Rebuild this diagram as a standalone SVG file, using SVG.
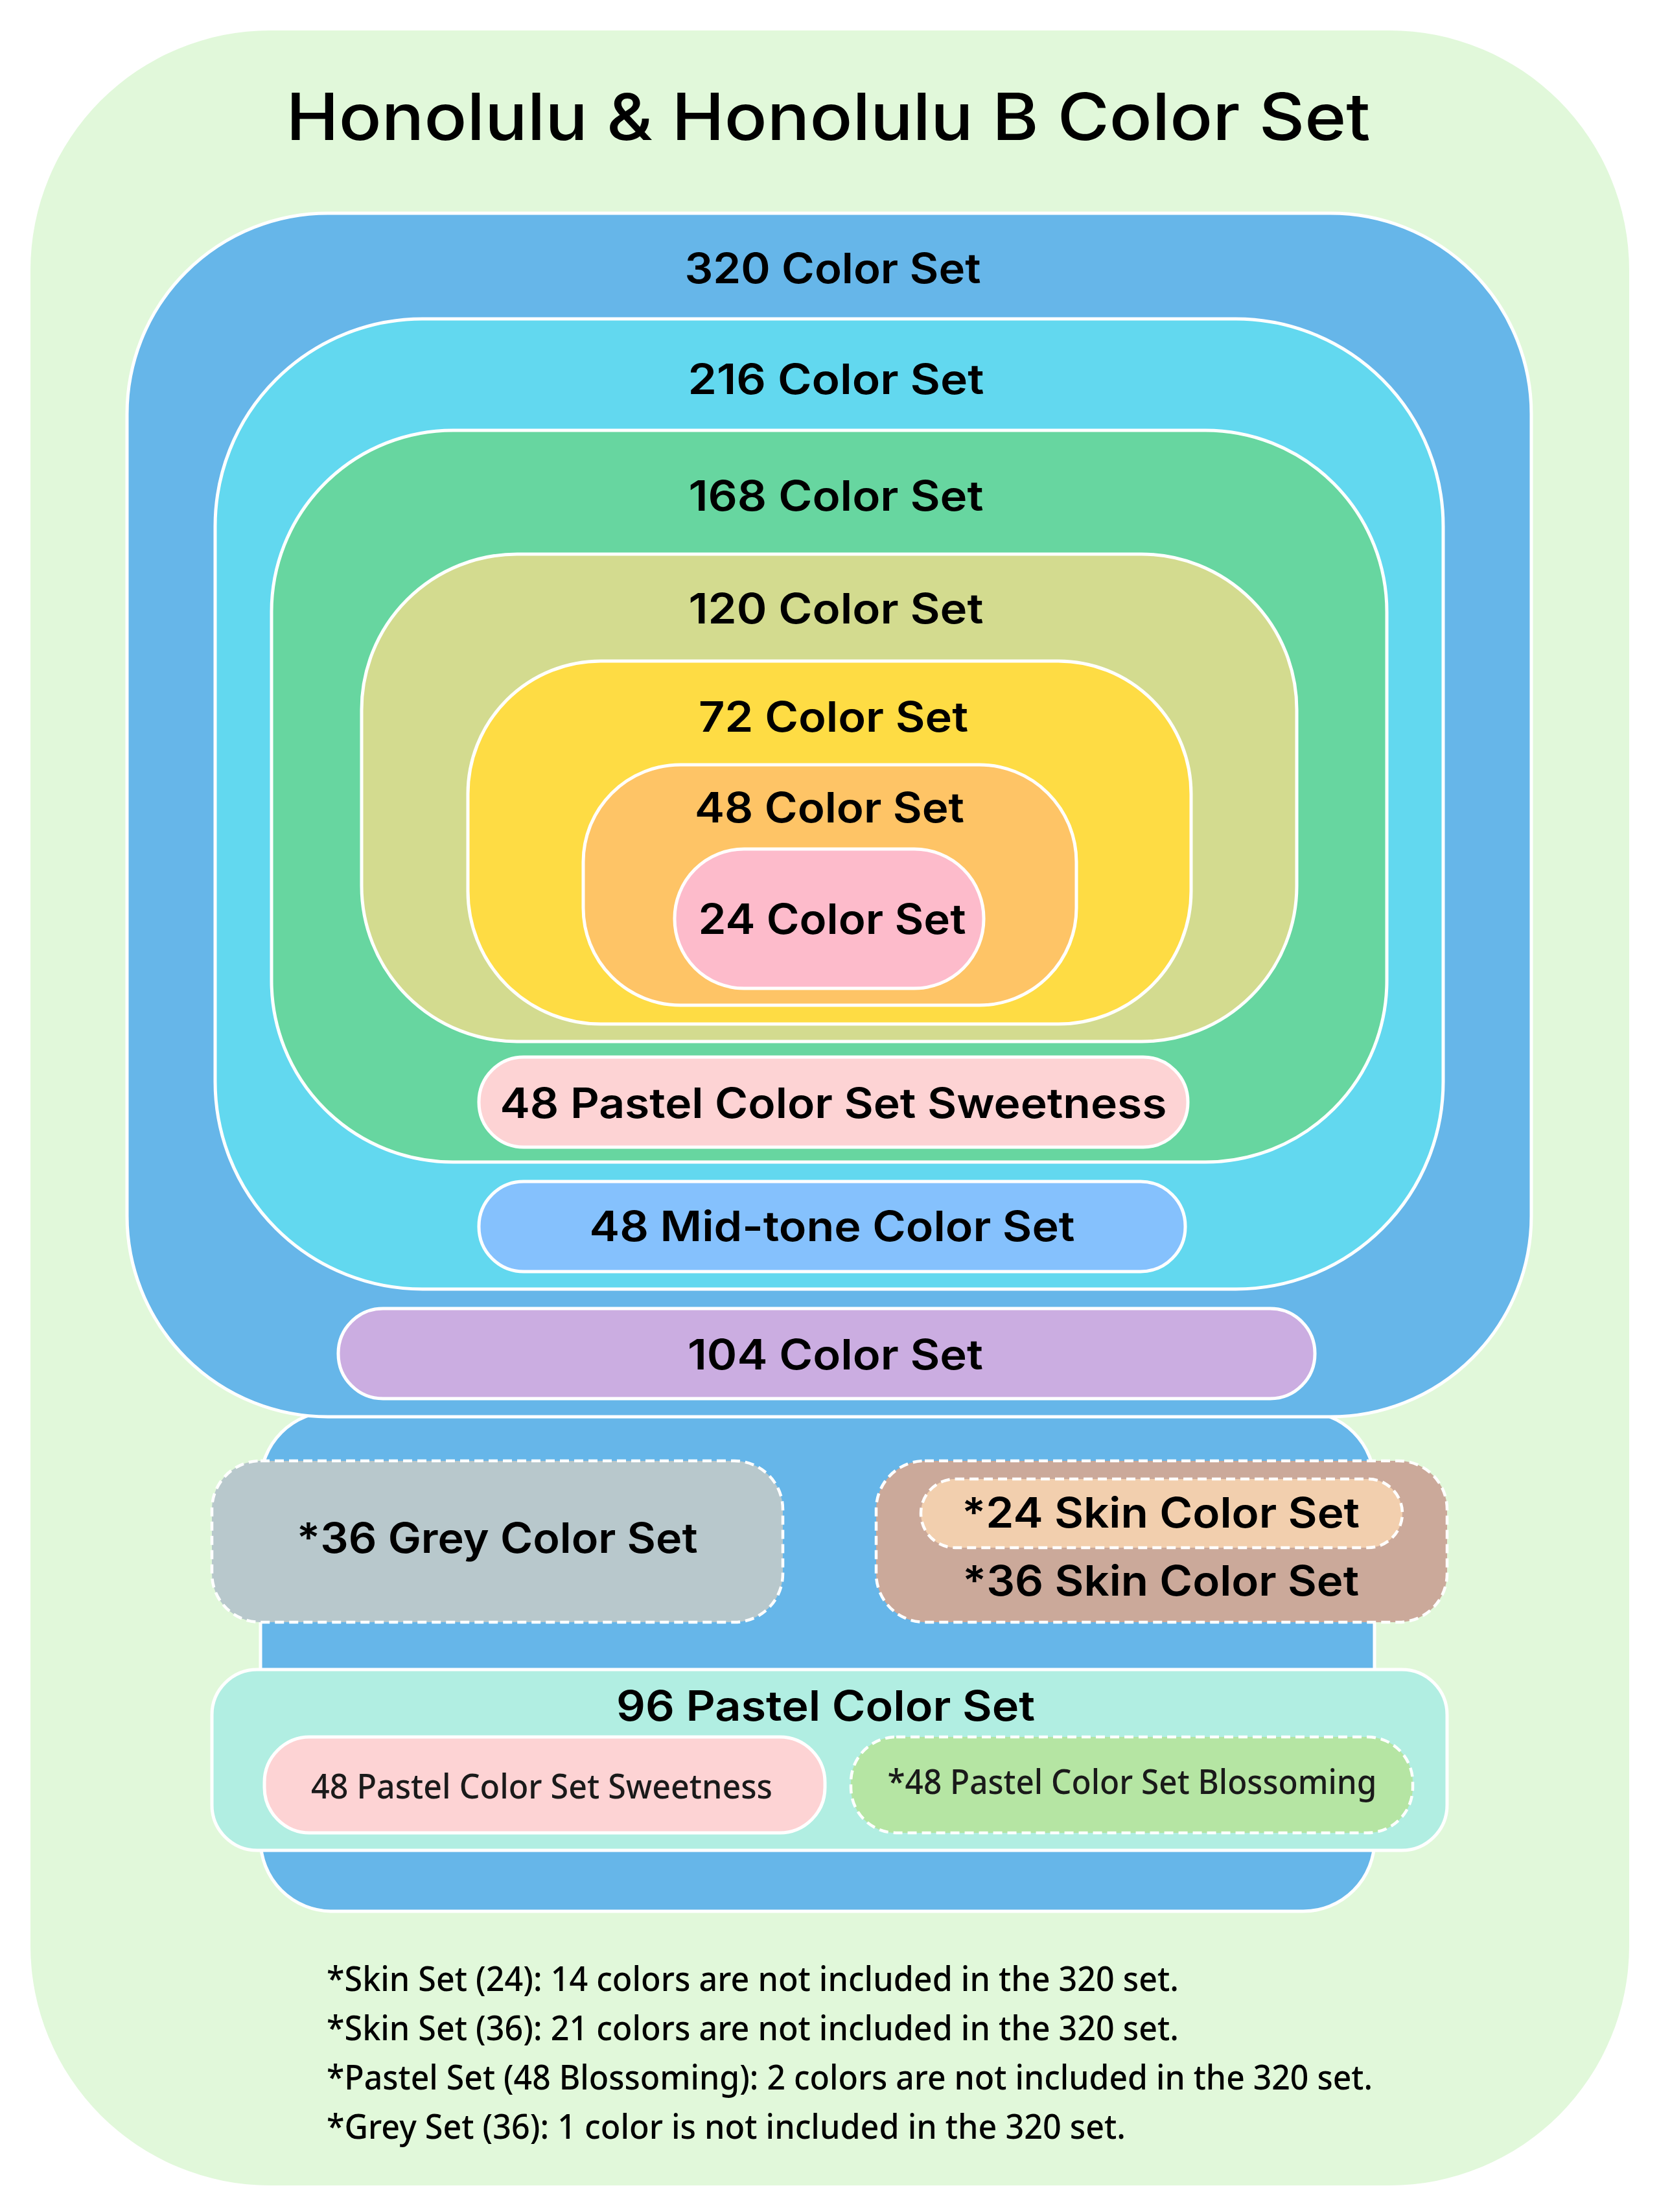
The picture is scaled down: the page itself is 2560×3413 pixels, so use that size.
<svg xmlns="http://www.w3.org/2000/svg" width="2560" height="3413" viewBox="0 0 2560 3413">
<style>
.box{stroke:#ffffff;stroke-width:5}
.dash{stroke:#ffffff;stroke-width:4.5;stroke-dasharray:14 8}
.lbl{font-family:Inter,"Noto Sans","Liberation Sans",sans-serif;font-weight:600;font-size:64px;fill:#000000;text-anchor:middle}
.title{font-family:Inter,"Noto Sans","Liberation Sans",sans-serif;font-weight:500;font-size:100px;fill:#000000;text-anchor:middle}
.sm{font-family:"Noto Sans","Open Sans","Liberation Sans",sans-serif;font-weight:500;font-size:52px;fill:#1a1a1a;text-anchor:middle}
.note{font-family:"Noto Sans","Open Sans","Liberation Sans",sans-serif;font-weight:500;font-size:52px;fill:#000000}
</style>
<rect width="2560" height="3413" fill="#ffffff"/>
<g id="background">
<rect x="47" y="47" width="2467" height="3325" rx="370" ry="370" fill="#E1F8DA"/>
<text class="title" x="1278" y="216" textLength="1673" lengthAdjust="spacingAndGlyphs">Honolulu &amp; Honolulu B Color Set</text>
</g>
<g id="lower-group">
<rect class="box" x="402" y="2178" width="1719" height="771" rx="110" ry="110" fill="#66B6E9"/>
</g>
<g id="set-320">
<rect class="box" x="196" y="329" width="2167" height="1857" rx="310" ry="310" fill="#66B6E9"/>
<text class="lbl" x="1285" y="437" textLength="457" lengthAdjust="spacingAndGlyphs">320 Color Set</text>
</g>
<g id="set-216">
<rect class="box" x="332" y="492" width="1895" height="1497" rx="320" ry="320" fill="#62D8EF"/>
<text class="lbl" x="1290" y="608" textLength="457" lengthAdjust="spacingAndGlyphs">216 Color Set</text>
</g>
<g id="set-168">
<rect class="box" x="419" y="664" width="1721" height="1129" rx="280" ry="280" fill="#67D6A0"/>
<text class="lbl" x="1290" y="788" textLength="455" lengthAdjust="spacingAndGlyphs">168 Color Set</text>
</g>
<g id="set-120">
<rect class="box" x="558" y="855" width="1443" height="752" rx="240" ry="240" fill="#D3DB8F"/>
<text class="lbl" x="1290" y="962" textLength="455" lengthAdjust="spacingAndGlyphs">120 Color Set</text>
</g>
<g id="set-72">
<rect class="box" x="722" y="1020" width="1116" height="560" rx="205" ry="205" fill="#FEDC44"/>
<text class="lbl" x="1286" y="1129" textLength="416" lengthAdjust="spacingAndGlyphs">72 Color Set</text>
</g>
<g id="set-48">
<rect class="box" x="900" y="1180" width="761" height="371" rx="150" ry="150" fill="#FEC466"/>
<text class="lbl" x="1280" y="1269" textLength="416" lengthAdjust="spacingAndGlyphs">48 Color Set</text>
</g>
<g id="set-24">
<rect class="box" x="1041" y="1310" width="477" height="215" rx="107" ry="107" fill="#FDBBCB"/>
<text class="lbl" x="1284" y="1441" textLength="413" lengthAdjust="spacingAndGlyphs">24 Color Set</text>
</g>
<g id="set-48-pastel-sweetness">
<rect class="box" x="739" y="1631" width="1094" height="139" rx="69" ry="69" fill="#FDD3D4"/>
<text class="lbl" x="1286" y="1725" textLength="1029" lengthAdjust="spacingAndGlyphs">48 Pastel Color Set Sweetness</text>
</g>
<g id="set-48-midtone">
<rect class="box" x="739" y="1823" width="1090" height="139" rx="69" ry="69" fill="#85C1FD"/>
<text class="lbl" x="1284" y="1915" textLength="749" lengthAdjust="spacingAndGlyphs">48 Mid-tone Color Set</text>
</g>
<g id="set-104">
<rect class="box" x="522" y="2019" width="1507" height="139" rx="69" ry="69" fill="#CBADE1"/>
<text class="lbl" x="1289" y="2113" textLength="456" lengthAdjust="spacingAndGlyphs">104 Color Set</text>
</g>
<g id="set-36-grey">
<rect class="dash" x="327" y="2254" width="881" height="249" rx="75" ry="75" fill="#B8C8CC"/>
<text class="lbl" x="767" y="2396" textLength="619" lengthAdjust="spacingAndGlyphs">*36 Grey Color Set</text>
</g>
<g id="set-36-skin">
<rect class="dash" x="1352" y="2254" width="881" height="249" rx="75" ry="75" fill="#CBA99A"/>
<text class="lbl" x="1791" y="2462" textLength="612" lengthAdjust="spacingAndGlyphs">*36 Skin Color Set</text>
</g>
<g id="set-24-skin">
<rect class="dash" x="1421" y="2282" width="743" height="106" rx="53" ry="53" fill="#F2CFAE"/>
<text class="lbl" x="1791" y="2357" textLength="614" lengthAdjust="spacingAndGlyphs">*24 Skin Color Set</text>
</g>
<g id="set-96-pastel">
<rect class="box" x="327" y="2576" width="1906" height="279" rx="70" ry="70" fill="#B1EEE2"/>
<text class="lbl" x="1274" y="2655" textLength="646" lengthAdjust="spacingAndGlyphs">96 Pastel Color Set</text>
</g>
<g id="set-48-pastel-sweetness-b">
<rect class="box" x="408" y="2680" width="865" height="148" rx="70" ry="70" fill="#FDD3D4"/>
<text class="sm" x="836" y="2775" textLength="712" lengthAdjust="spacingAndGlyphs">48 Pastel Color Set Sweetness</text>
</g>
<g id="set-48-pastel-blossoming">
<rect class="dash" x="1313" y="2680" width="867" height="148" rx="70" ry="70" fill="#B5E5A3"/>
<text class="sm" x="1747" y="2768" textLength="755" lengthAdjust="spacingAndGlyphs">*48 Pastel Color Set Blossoming</text>
</g>
<g id="connectors"></g>
<g id="notes">
<text class="note" x="504" y="3072" textLength="1315" lengthAdjust="spacingAndGlyphs">*Skin Set (24): 14 colors are not included in the 320 set.</text>
<text class="note" x="504" y="3148" textLength="1315" lengthAdjust="spacingAndGlyphs">*Skin Set (36): 21 colors are not included in the 320 set.</text>
<text class="note" x="504" y="3224" textLength="1614" lengthAdjust="spacingAndGlyphs">*Pastel Set (48 Blossoming): 2 colors are not included in the 320 set.</text>
<text class="note" x="504" y="3300" textLength="1233" lengthAdjust="spacingAndGlyphs">*Grey Set (36): 1 color is not included in the 320 set.</text>
</g>
</svg>
